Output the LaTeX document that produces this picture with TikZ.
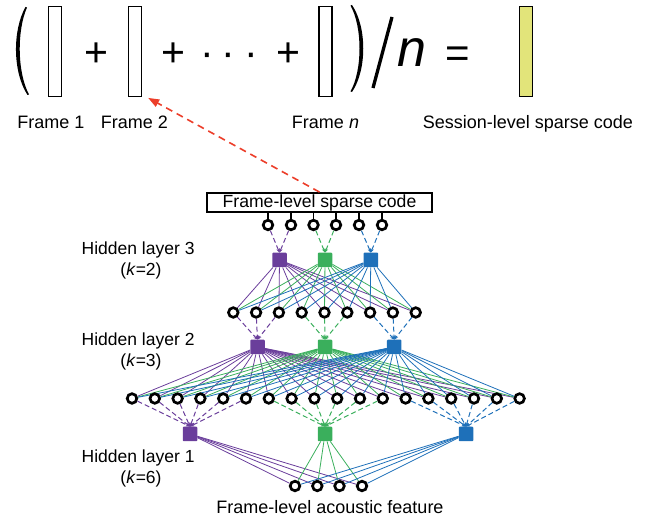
\documentclass[tikz,border=0pt]{standalone}
\usepackage{fontspec}
\setmainfont{Liberation Sans}
\usetikzlibrary{arrows.meta}
\pgfdeclarelayer{bg}
\pgfsetlayers{bg,main}
\definecolor{cpur}{RGB}{106,62,155}
\definecolor{cgrn}{RGB}{58,175,92}
\definecolor{cblu}{RGB}{30,112,185}
\definecolor{cred}{RGB}{236,62,42}
\definecolor{cyel}{RGB}{226,228,122}
\begin{document}
\begin{tikzpicture}[x=1pt,y=-1pt,
  neuron/.style={circle,draw=black,line width=2.7pt,fill=white,minimum size=9.6pt,inner sep=0pt},
  unit/.style={rectangle,minimum size=14.5pt,inner sep=0pt,rounded corners=0.8pt},
  framebox/.style={rectangle,draw=black,line width=1.3pt,minimum width=13pt,minimum height=89.5pt,inner sep=0pt},
  lbl/.style={font=\fontsize{18}{20}\selectfont,inner sep=0pt},
  hlbl/.style={font=\fontsize{17.5}{20}\selectfont,inner sep=0pt},
  bigsym/.style={font=\fontsize{41}{41}\selectfont,inner sep=0pt,anchor=base},
  conn/.style={line width=0.8pt},
  dashconn/.style={line width=1pt,dash pattern=on 5pt off 3pt,-{Stealth[length=4pt,width=3.5pt]}},
  tick/.style={line width=1.2pt},
  redarrow/.style={cred,line width=1.6pt,dash pattern=on 7pt off 5pt,-{Triangle[length=11pt,width=8pt]}}
]
\useasboundingbox (0,0) rectangle (662,521);

% ---------- top equation ----------
\fill (25.5,7) .. controls (12.5,30) and (12.5,72) .. (27.5,95)
      -- (29,94.5) .. controls (17,72) and (17,30) .. (27,7.5) -- cycle;
\fill (352,5) .. controls (367,27) and (367,70) .. (352,92)
      -- (350.5,91.5) .. controls (362.5,70) and (362.5,27) .. (350.5,5.5) -- cycle;
\draw[line width=3.3pt] (392,17) -- (373,88);

\node[framebox] (f1) at (55,51.5) {};
\node[framebox] (f2) at (135,51.5) {};
\node[framebox] (fn) at (325.5,51.5) {};
\node[framebox,fill=cyel] (fs) at (526,51.5) {};

\node[bigsym] (p1) at (96,67) {+};
\node[bigsym] (p2) at (173,67) {+};
\node[bigsym] (p3) at (288,67) {+};
\node[bigsym] (d1) at (207,67) {·};
\node[bigsym] (d2) at (228,67) {·};
\node[bigsym] (d3) at (251,67) {·};
\node[bigsym,font=\fontsize{42}{42}\selectfont] (eq) at (457.5,67.5) {=};
\node[inner sep=0pt,anchor=base,font=\fontsize{52}{52}\selectfont\itshape] (nn) at (412,67) {n};

\node[lbl,anchor=base] (lf1) at (51,128.5) {Frame 1};
\node[lbl,anchor=base] (lf2) at (134.5,128.5) {Frame 2};
\node[lbl,anchor=base] (lfn) at (325.5,128.5) {Frame \textit{n}};
\node[lbl,anchor=base] (lfs) at (528,128.5) {Session-level sparse code};

% ---------- network ----------
\node[draw,line width=1.8pt,minimum width=225pt,minimum height=19pt,inner sep=0pt,
      font=\fontsize{17.6}{20}\selectfont] (sparse) at (319.5,202.5) {Frame-level sparse code};

\foreach \i/\x in {1/268,2/291,3/313.5,4/336,5/359,6/382}
  \node[neuron] (t\i) at (\x,225) {};

\node[unit,fill=cpur] (a1) at (279.5,260) {};
\node[unit,fill=cgrn] (a2) at (325,260) {};
\node[unit,fill=cblu] (a3) at (370.8,260) {};

\foreach \i in {0,...,8}
  \node[neuron] (m\i) at ({324.5+22.8*(\i-4)},312.5) {};

\node[unit,fill=cpur] (b1) at (257.5,347) {};
\node[unit,fill=cgrn] (b2) at (325,347) {};
\node[unit,fill=cblu] (b3) at (394.2,347) {};

\foreach \i in {0,...,17}
  \node[neuron] (l\i) at ({132+22.8*\i},398.5) {};

\node[unit,fill=cpur] (c1) at (190,434) {};
\node[unit,fill=cgrn] (c2) at (325,434) {};
\node[unit,fill=cblu] (c3) at (466,434) {};

\foreach \i/\x in {0/295,1/317.3,2/339.5,3/362}
  \node[neuron] (q\i) at (\x,486) {};

\begin{pgfonlayer}{bg}
  \foreach \i in {1,...,6}
    \draw[tick] (t\i |- sparse.south) -- (t\i);
  % dashed into layer 3
  \draw[dashconn,cpur] (t1) -- (a1.north);
  \draw[dashconn,cpur] (t2) -- (a1.north);
  \draw[dashconn,cgrn] (t3) -- (a2.north);
  \draw[dashconn,cgrn] (t4) -- (a2.north);
  \draw[dashconn,cblu] (t5) -- (a3.north);
  \draw[dashconn,cblu] (t6) -- (a3.north);
  % layer 3 to circles
  \foreach \s/\c in {a1/cpur,a2/cgrn,a3/cblu}
    \foreach \i in {0,...,8}
      \draw[conn,\c] (\s) -- (m\i);
  % dashed into layer 2
  \foreach \i in {0,1,2} \draw[dashconn,cpur] (m\i) -- (b1.north);
  \foreach \i in {3,4,5} \draw[dashconn,cgrn] (m\i) -- (b2.north);
  \foreach \i in {6,7,8} \draw[dashconn,cblu] (m\i) -- (b3.north);
  % layer 2 to circles
  \foreach \s/\c in {b1/cpur,b2/cgrn,b3/cblu}
    \foreach \i in {0,...,17}
      \draw[conn,\c] (\s) -- (l\i);
  % dashed into layer 1
  \foreach \i in {0,...,5} \draw[dashconn,cpur] (l\i) -- (c1.north);
  \foreach \i in {6,...,11} \draw[dashconn,cgrn] (l\i) -- (c2.north);
  \foreach \i in {12,...,17} \draw[dashconn,cblu] (l\i) -- (c3.north);
  % layer 1 to input
  \foreach \s/\c in {c1/cpur,c2/cgrn,c3/cblu}
    \foreach \i in {0,...,3}
      \draw[conn,\c] (\s) -- (q\i);
\end{pgfonlayer}

\draw[redarrow] (sparse.north) -- ([shift={(6,1)}]f2.south east);

\node[hlbl,anchor=base west] (h3) at (81.5,254.5) {Hidden layer 3};
\node[hlbl,anchor=base] (k3) at (141,275.5) {(\textit{k}=2)};
\node[hlbl,anchor=base west] (h2) at (81.5,345.7) {Hidden layer 2};
\node[hlbl,anchor=base] (k2) at (141,366.3) {(\textit{k}=3)};
\node[hlbl,anchor=base west] (h1) at (81.5,462.7) {Hidden layer 1};
\node[hlbl,anchor=base] (k1) at (141,483.3) {(\textit{k}=6)};

\node[lbl,anchor=base] (acf) at (330,514) {Frame-level acoustic feature};
\end{tikzpicture}
\end{document}
